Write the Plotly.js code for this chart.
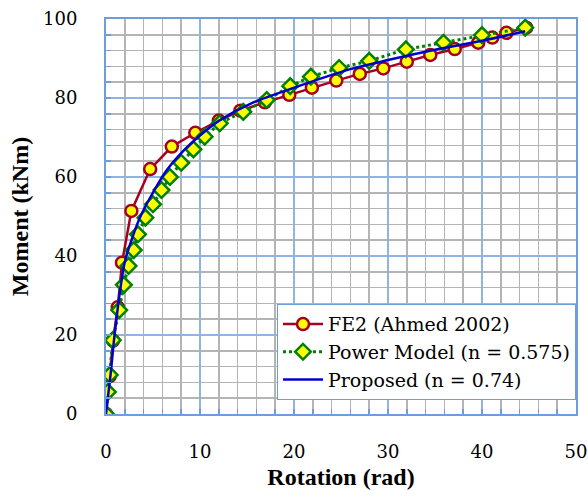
<!DOCTYPE html>
<html>
<head>
<meta charset="utf-8">
<script src="https://cdn.plot.ly/plotly-3.0.1.min.js"></script>
<style>
html,body{margin:0;padding:0;background:#fff;}
#chart{width:588px;height:499px;}
</style>
</head>
<body>
<div id="chart"></div>
<script>
// FE2 (Ahmed 2002)
const fe2Rotation = [0, 0.4, 0.75, 1.25, 1.7, 2.7, 4.7, 7.0, 9.5, 12.0, 14.3, 16.9, 19.5, 21.9, 24.5, 27.0, 29.5, 32.0, 34.5, 37.1, 39.6, 41.1, 42.6, 44.7];
const fe2Moment   = [0, 9.6, 18.6, 27.0, 38.3, 51.4, 62.0, 67.7, 71.2, 74.3, 76.8, 78.9, 80.8, 82.6, 84.4, 86.1, 87.5, 89.2, 90.9, 92.4, 94.0, 95.3, 96.5, 97.8];

// Power Model (n = 0.575)
const powRotation = [0, 0.2, 0.4, 0.72, 1.4, 1.9, 2.4, 2.95, 3.4, 4.2, 5.0, 5.9, 6.8, 8.0, 9.3, 10.5, 12.1, 14.6, 17.1, 19.6, 21.8, 24.8, 28.0, 31.9, 35.9, 40.0, 44.6];
const powMoment   = [0, 5.6, 9.9, 18.7, 26.3, 32.7, 37.5, 41.5, 45.5, 49.7, 53.1, 56.7, 60.0, 63.6, 67.0, 70.2, 73.6, 76.5, 79.5, 83.0, 85.4, 87.6, 89.4, 92.3, 94.0, 95.9, 97.8];

// Proposed (n = 0.74)
const propRotation = [0, 0.5, 0.85, 1.4, 2.0, 3.0, 3.7, 4.75, 6.4, 8.1, 10.0, 12.0, 15.4, 20.0, 26.0, 30.0, 35.0, 40.0, 44.6];
const propMoment   = [0, 10.3, 18.7, 29.5, 38.5, 46.0, 50.2, 55.0, 61.5, 66.3, 70.5, 74.2, 78.6, 82.6, 87.3, 89.6, 92.2, 94.5, 96.9];

const seriesNames = ["FE2 (Ahmed 2002)", "Power Model (n = 0.575)", "Proposed (n = 0.74)"];
const xTickVals = [0, 10, 20, 30, 40, 50];
const yTickVals = [0, 20, 40, 60, 80, 100];

const TITLE_FONT = "Liberation Serif";
const TEXT_FONT = "DejaVu Serif";
const AXIS_BLUE = "#6a9fdc";
const MAJOR_GRID = "#8fb4e3";
const MINOR_GRID = "#b4b4b4";

const regFont = (size) => ({family: TEXT_FONT, size: size, color: "#000", weight: 400});

const traces = [
  {
    x: fe2Rotation, y: fe2Moment, name: seriesNames[0], type: "scatter", mode: "lines+markers",
    line: {color: "#a50021", width: 2.5},
    marker: {symbol: "circle", size: 12, color: "#ffff00", line: {color: "#a50021", width: 2.5}}
  },
  {
    x: powRotation, y: powMoment, name: seriesNames[1], type: "scatter", mode: "lines+markers",
    line: {color: "#008000", width: 3, dash: "dot"},
    marker: {symbol: "diamond", size: 12, color: "#ffff00", line: {color: "#008000", width: 2.5}}
  },
  {
    x: propRotation, y: propMoment, name: seriesNames[2], type: "scatter", mode: "lines",
    line: {color: "#0000cc", width: 2.5, shape: "spline", smoothing: 0.8}
  }
];

const layout = {
  width: 588, height: 499,
  margin: {l: 106, r: 12, t: 19, b: 85},
  paper_bgcolor: "#ffffff", plot_bgcolor: "#ffffff",
  showlegend: true,
  legend: {
    x: 1, xanchor: "right", y: 0.035, yanchor: "bottom",
    bgcolor: "#ffffff", bordercolor: AXIS_BLUE, borderwidth: 1,
    font: regFont(19),
    tracegroupgap: 0, itemwidth: 40
  },
  xaxis: {
    range: [0, 50], tickvals: xTickVals, ticktext: xTickVals.map(String),
    showline: true, linecolor: AXIS_BLUE, linewidth: 2, mirror: true,
    showgrid: true, gridcolor: MAJOR_GRID, gridwidth: 1.5,
    ticks: "inside", ticklen: 5, tickcolor: AXIS_BLUE, tickwidth: 1.5,
    minor: {dtick: 2, showgrid: true, gridcolor: MINOR_GRID, gridwidth: 1.5, ticks: "inside", ticklen: 5, tickcolor: AXIS_BLUE, tickwidth: 1.5},
    zeroline: false, ticklabelstandoff: 20,
    tickfont: regFont(18),
    title: {text: "<b>Rotation (rad)</b>", font: {family: TITLE_FONT, size: 24, color: "#000"}, standoff: 8}
  },
  yaxis: {
    range: [0, 100], tickvals: yTickVals, ticktext: yTickVals.map(String),
    showline: true, linecolor: AXIS_BLUE, linewidth: 2, mirror: true,
    showgrid: true, gridcolor: MAJOR_GRID, gridwidth: 1.5,
    ticks: "inside", ticklen: 5, tickcolor: AXIS_BLUE, tickwidth: 1.5,
    minor: {dtick: 4, showgrid: true, gridcolor: MINOR_GRID, gridwidth: 1.5, ticks: "inside", ticklen: 5, tickcolor: AXIS_BLUE, tickwidth: 1.5},
    zeroline: false, ticklabelstandoff: 23,
    tickfont: regFont(18),
    title: {text: "<b>Moment (kNm)</b>", font: {family: TITLE_FONT, size: 24, color: "#000"}, standoff: 8}
  }
};

Plotly.newPlot("chart", traces, layout, {displayModeBar: false, staticPlot: true});
</script>
</body>
</html>
